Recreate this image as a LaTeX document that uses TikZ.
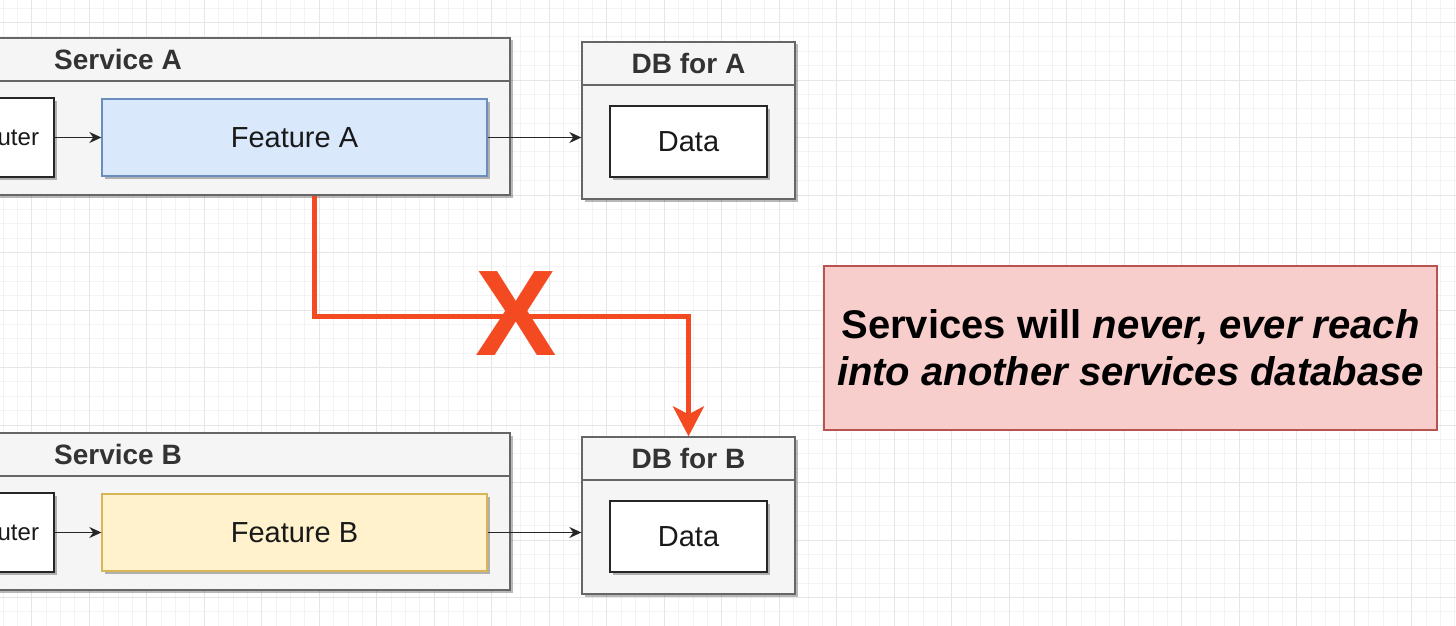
\documentclass[tikz,border=0pt]{standalone}
\usepackage{fontspec}
\setmainfont{Liberation Sans}
\usetikzlibrary{arrows.meta,shadows}
\definecolor{gridminor}{HTML}{F3F3F3}
\definecolor{gridmajor}{HTML}{E6E6E6}
\definecolor{contfill}{HTML}{F5F5F5}
\definecolor{contline}{HTML}{666666}
\definecolor{headtext}{HTML}{333333}
\definecolor{blfill}{HTML}{DAE8FC}
\definecolor{blline}{HTML}{6C8EBF}
\definecolor{ylfill}{HTML}{FFF2CC}
\definecolor{ylline}{HTML}{D6B656}
\definecolor{rdfill}{HTML}{F8CECC}
\definecolor{rdline}{HTML}{B85450}
\definecolor{warnred}{HTML}{F44A22}
\begin{document}
\begin{tikzpicture}[x=1pt,y=-1pt,
  shad/.style={drop shadow={shadow xshift=2.5pt,shadow yshift=-2.5pt,opacity=0.28,fill=black}},
  box/.style={rectangle,inner sep=0pt,line width=1.3pt,shad},
  cont/.style={box,draw=contline,fill=contfill},
  head/.style={cont,text=headtext,font=\bfseries\fontsize{28}{32}\selectfont},
  whitebox/.style={box,draw=black!85,fill=white,text=black!90,font=\fontsize{29}{33}\selectfont},
  feat/.style={box,font=\fontsize{29}{33}\selectfont,text=black!90},
  link/.style={draw=black!85,line width=1.4pt,-{Stealth[length=12pt,width=11pt]}},
  nope/.style={draw=warnred,line width=5pt,-{Stealth[length=30pt,width=31pt,inset=8pt]}}
]
\useasboundingbox (0,0) rectangle (1456,626);
\clip (0,0) rectangle (1456,626);
\fill[white] (0,0) rectangle (1456,626);
% grid
\foreach \i in {0,...,101} {
  \draw[gridminor,line width=0.8pt] ({3.0+14.375*\i},0) -- ({3.0+14.375*\i},626);
}
\foreach \i in {0,...,44} {
  \draw[gridminor,line width=0.8pt] (0,{8.1+14.375*\i}) -- (1456,{8.1+14.375*\i});
}
\foreach \i in {0,...,25} {
  \draw[gridmajor,line width=1pt] ({31.7+57.5*\i},0) -- ({31.7+57.5*\i},626);
}
\foreach \i in {0,...,11} {
  \draw[gridmajor,line width=1pt] (0,{22.5+57.5*\i}) -- (1456,{22.5+57.5*\i});
}

% Service A
\node[head,minimum width=784pt,minimum height=43pt] (sAhead) at (118,59.5) {Service A};
\node[cont,minimum width=784pt,minimum height=114pt] (sAbody) at (118,138) {};
\node[whitebox,minimum width=102pt,minimum height=79pt,font=\fontsize{24}{28}\selectfont] (rA) at (3,137.5) {Router};
\node[feat,draw=blline,fill=blfill,minimum width=385pt,minimum height=77pt] (fA) at (294.5,137.5) {Feature A};
% DB A
\node[head,minimum width=213pt,minimum height=43pt] (dAhead) at (688.5,63.5) {DB for A};
\node[cont,minimum width=213pt,minimum height=114pt] (dAbody) at (688.5,142) {};
\node[whitebox,minimum width=157pt,minimum height=71pt] (dA) at (688.5,141.5) {Data};

% Service B
\node[head,minimum width=784pt,minimum height=43pt] (sBhead) at (118,454.5) {Service B};
\node[cont,minimum width=784pt,minimum height=114pt] (sBbody) at (118,533) {};
\node[whitebox,minimum width=102pt,minimum height=79pt,font=\fontsize{24}{28}\selectfont] (rB) at (3,532.5) {Router};
\node[feat,draw=ylline,fill=ylfill,minimum width=385pt,minimum height=77pt] (fB) at (294.5,532.5) {Feature B};
% DB B
\node[head,minimum width=213pt,minimum height=43pt] (dBhead) at (688.5,458.5) {DB for B};
\node[cont,minimum width=213pt,minimum height=114pt] (dBbody) at (688.5,537) {};
\node[whitebox,minimum width=157pt,minimum height=71pt] (dB) at (688.5,536.5) {Data};

% black links
\draw[link] (rA.east) -- (fA.west);
\draw[link] (fA.east) -- (fA.east -| dAbody.west);
\draw[link] (rB.east) -- (fB.west);
\draw[link] (fB.east) -- (fB.east -| dBbody.west);

% forbidden access
\coordinate (xa) at (314,0);
\coordinate (corner) at (314,316);
\draw[nope] (sAbody.south -| xa) -- (corner) -| (dBhead.north);
\node[text=warnred,font=\bfseries\fontsize{122}{122}\selectfont,inner sep=0pt] (cross) at (516,314) {X};

% note
\node[rectangle,draw=rdline,fill=rdfill,line width=1.2pt,minimum width=613pt,minimum height=164pt,
  align=center,inner sep=0pt,font=\bfseries\fontsize{40}{47}\selectfont] (note) at (1130.5,348)
  {Services will \textit{never, ever reach}\\ \textit{into another services database}};
\end{tikzpicture}
\end{document}
